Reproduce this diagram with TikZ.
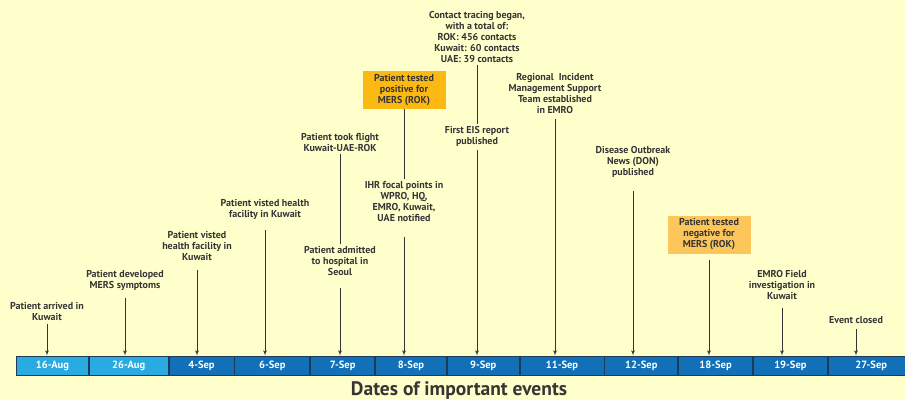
\documentclass[tikz,border=0pt]{standalone}
\usepackage{fontspec}
\setmainfont{PT Sans}
\usepackage{tikz}
\usetikzlibrary{arrows}
\usetikzlibrary{positioning}

\definecolor{paper}{HTML}{FFFFCC}
\definecolor{inkgray}{HTML}{353535}
\definecolor{lightblue}{HTML}{29ABE2}
\definecolor{darkblue}{HTML}{1270B8}
\definecolor{cellline}{HTML}{1E3A56}
\definecolor{posorange}{HTML}{FDB913}
\definecolor{negorange}{HTML}{FCC65A}

\begin{document}
\begin{tikzpicture}[x=1pt,y=-1pt,>=latex',thick,node distance=0pt,
    date cell/.style={draw=cellline,line width=0.8pt,minimum height=19pt,inner sep=0pt,
                      text=white,font=\bfseries\fontsize{10.5}{12}\selectfont},
    aug cell/.style={date cell,fill=lightblue},
    sep cell/.style={date cell,fill=darkblue},
    event note/.style={align=center,inner sep=2pt,text=inkgray,
                       font=\bfseries\fontsize{10}{11}\selectfont},
    result box/.style={event note,minimum width=83pt,minimum height=38pt}]
    \fill[paper] (0,0) rectangle (905,400);
    \useasboundingbox (0,0) rectangle (905,400);

    % date bar
    \node[aug cell,minimum width=72pt,anchor=west] (aug16) at (16,365.5) {16-Aug};
    \node[aug cell,minimum width=79pt] (aug26) [right=of aug16] {26-Aug};
    \node[sep cell,minimum width=65pt] (sep4) [right=of aug26] {4-Sep};
    \node[sep cell,minimum width=75pt] (sep6) [right=of sep4] {6-Sep};
    \node[sep cell,minimum width=64pt] (sep7) [right=of sep6] {7-Sep};
    \node[sep cell,minimum width=71pt] (sep8) [right=of sep7] {8-Sep};
    \node[sep cell,minimum width=72pt] (sep9) [right=of sep8] {9-Sep};
    \node[sep cell,minimum width=84pt] (sep11) [right=of sep9] {11-Sep};
    \node[sep cell,minimum width=73pt] (sep12) [right=of sep11] {12-Sep};
    \node[sep cell,minimum width=74pt] (sep18) [right=of sep12] {18-Sep};
    \node[sep cell,minimum width=74pt] (sep19) [right=of sep18] {19-Sep};
    \node[sep cell,minimum width=86pt] (sep27) [right=of sep19] {27-Sep};

    % events
    \node[event note] (arrived) at (47,312) {Patient arrived in\\Kuwait};
    \node[event note] (symptoms) at (125,280) {Patient developed\\MERS symptoms};
    \node[event note] (visit4) at (197,246.5) {Patient visted\\health facility in\\Kuwait};
    \node[event note] (visit6) at (265,209) {Patient visted health\\facility in Kuwait};
    \node[event note] (flight) at (340,142) {Patient took flight\\Kuwait-UAE-ROK};
    \node[event note] (admitted) at (340,261.5) {Patient admitted\\to hospital in\\Seoul};
    \node[result box,fill=posorange] (positive) at (404,90) {Patient tested\\positive for\\MERS (ROK)};
    \node[event note] (ihr) at (404,202) {IHR focal points in\\WPRO, HQ,\\EMRO, Kuwait,\\UAE notified};
    \node[event note] (tracing) at (477,36.5) {Contact tracing began,\\with a total of:\\ROK: 456 contacts\\Kuwait: 60 contacts\\UAE: 39 contacts};
    \node[event note] (eis) at (477,136) {First EIS report\\published};
    \node[event note] (imst) at (555,94) {Regional\ \ Incident\\Management Support\\Team established\\in EMRO};
    \node[event note] (don) at (633,161.5) {Disease Outbreak\\News (DON)\\published};
    \node[result box,fill=negorange] (negative) at (709,234.5) {Patient tested\\negative for\\MERS (ROK)};
    \node[event note] (field) at (782,284.5) {EMRO Field\\investigation in\\Kuwait};
    \node[event note] (closed) at (856,320.5) {Event closed};

    % connectors
    \draw[inkgray,->] (arrived.south) -- (arrived.south |- aug16.north);
    \draw[inkgray,->] (symptoms.south) ++(0,6) -- (symptoms.south |- aug26.north);
    \draw[inkgray,->] (visit4.south) ++(0,6) -- (visit4.south |- sep4.north);
    \draw[inkgray,->] (visit6.south) ++(0,9) -- (visit6.south |- sep6.north);
    \draw[inkgray] (flight.south) -- (admitted.north);
    \draw[inkgray,->] (admitted.south) ++(0,9) -- (admitted.south |- sep7.north);
    \draw[inkgray] (positive.south) -- (ihr.north);
    \draw[inkgray,->] (ihr.south) ++(0,12) -- (ihr.south |- sep8.north);
    \draw[inkgray] (tracing.south) -- (eis.north);
    \draw[inkgray,->] (eis.south) ++(0,2) -- (eis.south |- sep9.north);
    \draw[inkgray,->] (imst.south) ++(0,2) -- (imst.south |- sep11.north);
    \draw[inkgray,->] (don.south) ++(0,12) -- (don.south |- sep12.north);
    \draw[inkgray,->] (negative.south) ++(0,6) -- (negative.south |- sep18.north);
    \draw[inkgray,->] (field.south) ++(0,6) -- (field.south |- sep19.north);
    \draw[inkgray,->] (closed.south) ++(0,3) -- (closed.south |- sep27.north);

    \node[text=inkgray,font=\bfseries\fontsize{19.5}{22}\selectfont] (title) at (459,391) {Dates of important events};
\end{tikzpicture}
\end{document}
